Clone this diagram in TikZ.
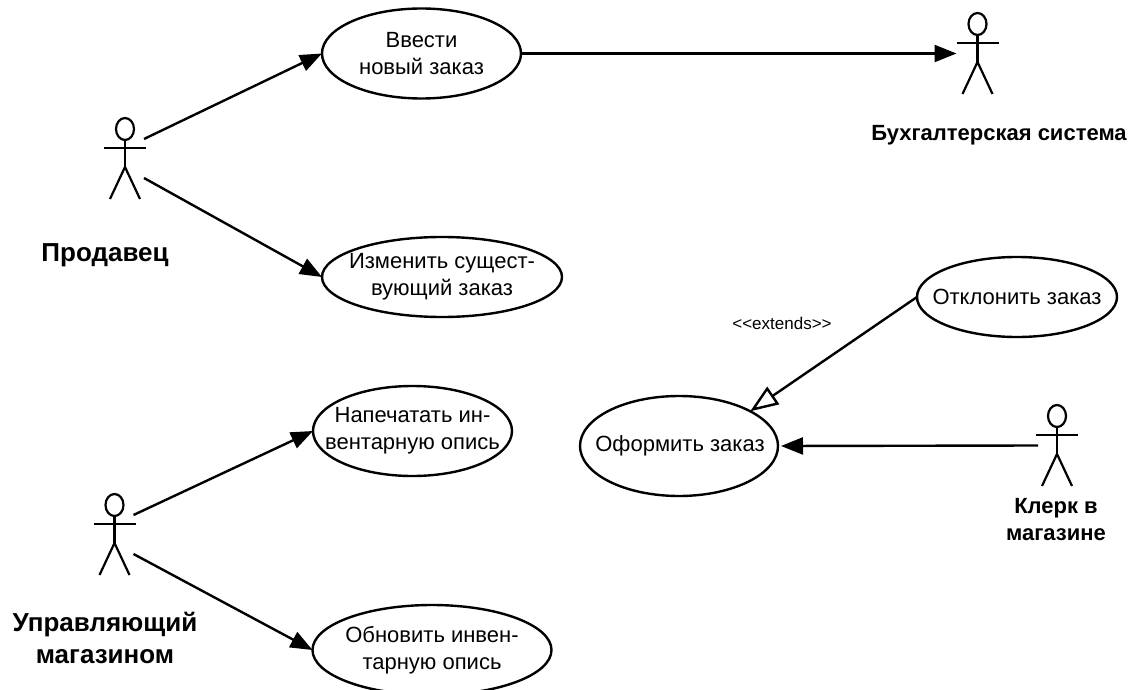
\documentclass[tikz,border=0pt]{standalone}
\usepackage{fontspec}
\setmainfont{Liberation Sans}
\usetikzlibrary{shapes.geometric,arrows.meta}
\tikzset{
  uc/.style={ellipse,draw=black,line width=2.4pt,fill=white,inner sep=0pt,outer sep=0pt},
  uctext/.style={align=center,inner sep=0pt,font=\fontsize{22}{27}\selectfont},
  actorbox/.style={rectangle,draw=none,minimum width=42pt,minimum height=81pt,inner sep=0pt,outer sep=0pt},
  lbl/.style={align=center,inner sep=0pt,font=\fontsize{26}{32}\selectfont\bfseries},
  lblsm/.style={align=center,inner sep=0pt,font=\fontsize{22}{27}\selectfont\bfseries},
  assoc/.style={line width=2.4pt,-{Triangle[length=22pt,width=17pt]}},
  ext/.style={line width=2.4pt,-{Triangle[open,fill=white,length=28pt,width=21pt]}},
  fig/.style={line width=2.2pt,line cap=butt},
  actor/.pic={
    \draw[fig] (0,-29.5) ellipse [x radius=9pt,y radius=11pt];
    \draw[fig] (0,-18.5) -- (0,8.5);
    \draw[fig] (-21,-10.5) -- (21,-10.5);
    \draw[fig] (-15,40.5) -- (0,8.5) -- (15,40.5);
  }
}
\begin{document}
\begin{tikzpicture}[x=1pt,y=-1pt]
\useasboundingbox (0,0) rectangle (1130,690);
% actors
\node[actorbox] (a1) at (125,158.5) {};
\node[actorbox] (a2) at (114.5,534.5) {};
\node[actorbox] (a3) at (977.5,53.5) {};
\node[actorbox] (a4) at (1057,445.5) {};
\path (a1.center) pic {actor};
\path (a2.center) pic {actor};
\path (a3.center) pic {actor};
\path (a4.center) pic {actor};
% use cases
\node[uc,minimum width=199pt,minimum height=90pt] (u1) at (421.5,53.5) {};
\node[uc,minimum width=240pt,minimum height=80pt] (u2) at (442,277) {};
\node[uc,minimum width=199pt,minimum height=90pt] (u3) at (412.5,431) {};
\node[uc,minimum width=239pt,minimum height=90pt] (u4) at (432,650) {};
\node[uc,minimum width=198pt,minimum height=100pt] (u5) at (679,446) {};
\node[uc,minimum width=200pt,minimum height=80pt] (u6) at (1017,297) {};
\node[uctext] (t1) at (u1.center) {Ввести\\новый заказ};
\node[uctext] (t2) at (u2.center) {Изменить сущест-\\вующий заказ};
\node[uctext] (t3) at (u3.center) {Напечатать ин-\\вентарную опись};
\node[uctext] (t4) at (u4.center) {Обновить инвен-\\тарную опись};
\node[uctext] (t5) at (680,446) {Оформить заказ};
\node[uctext] (t6) at (u6.center) {Отклонить заказ};
% labels
\node[lbl] (l1) at (105,255) {Продавец};
\node[lbl] (l2) at (105,638) {Управляющий\\магазином};
\node[lblsm] (l3) at (999,135) {Бухгалтерская система};
\node[lblsm] (l4) at (1056,520) {Клерк в\\магазине};
\node[inner sep=0pt,font=\fontsize{17}{20}\selectfont] (l5) at (782,323) {<{}<extends>{}>};
% connectors
\draw[assoc] ([xshift=-2pt,yshift=19.5pt]a1.east) -- (u1.west);
\draw[assoc] ([xshift=-2pt,yshift=-19.5pt]a1.east) -- (u2.west);
\draw[assoc] ([xshift=-2pt,yshift=19.5pt]a2.east) -- (u3.west);
\draw[assoc] ([xshift=-2pt,yshift=-19.5pt]a2.east) -- (u4.west);
\draw[assoc] (u1.east) -- (a3.west);
\draw[assoc,shorten >=3pt] ([xshift=2pt]a4.west) -- (u5.east);
\draw[ext] (u6.west) -- (u5.26);
\end{tikzpicture}
\end{document}
